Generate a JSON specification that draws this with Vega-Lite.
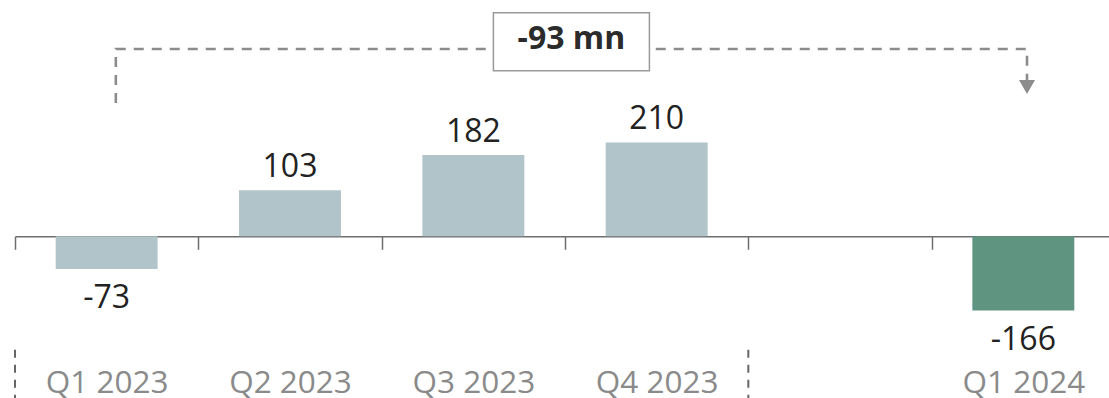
{
  "$schema": "https://vega.github.io/schema/vega-lite/v6.json",
  "width": 1100,
  "height": 398,
  "padding": {"left": 14, "top": 0, "right": 0, "bottom": 0},
  "config": {"view": {"stroke": null}, "font": "Open Sans"},
  "datasets": {
    "bars": [
      {"q": "Q1 2023", "v": -73, "g": "past"},
      {"q": "Q2 2023", "v": 103, "g": "past"},
      {"q": "Q3 2023", "v": 182, "g": "past"},
      {"q": "Q4 2023", "v": 210, "g": "past"},
      {"q": "Q1 2024", "v": -166, "g": "current"}
    ],
    "bracket": [
      {"pos": 0.55, "y": 298, "o": 1},
      {"pos": 0.55, "y": 419, "o": 2},
      {"pos": 5.52, "y": 419, "o": 3},
      {"pos": 5.52, "y": 336, "o": 4}
    ],
    "seps": [
      {"pos": 0, "y": -254, "y2": -362},
      {"pos": 4, "y": -254, "y2": -362}
    ],
    "arrow": [{"pos": 5.52, "y": 334}],
    "box": [{"pos": 3.035, "y": 435, "ty": 419, "label": "-93 mn"}]
  },
  "resolve": {"scale": {"x": "independent"}},
  "layer": [
    {
      "data": {"name": "bars"},
      "transform": [{"calculate": "toString(datum.v)", "as": "lbl"}],
      "encoding": {
        "x": {
          "field": "q", "type": "nominal", "sort": null,
          "scale": {"domain": ["Q1 2023", "Q2 2023", "Q3 2023", "Q4 2023", "gap", "Q1 2024"], "paddingInner": 0, "paddingOuter": 0},
          "axis": {
            "title": null, "orient": "bottom", "offset": -161.7, "tickBand": "extent",
            "tickSize": 13, "tickColor": "#6e6e6e", "tickWidth": 1.5,
            "domainColor": "#6e6e6e", "domainWidth": 1.5,
            "labelFont": "Open Sans", "labelFontSize": 31.5, "labelColor": "#8a8a8a",
            "labelPadding": 118.5, "labelAngle": 0,
            "labelExpr": "datum.value == 'gap' ? '' : datum.value"
          }
        },
        "y": {"field": "v", "type": "quantitative", "scale": {"domain": [-361.7, 528.6], "nice": false, "zero": false}, "axis": null}
      },
      "layer": [
        {
          "mark": {"type": "bar", "width": {"band": 0.556}},
          "encoding": {
            "color": {"field": "g", "type": "nominal", "scale": {"domain": ["past", "current"], "range": ["#b0c4c9", "#5f9580"]}, "legend": null}
          }
        },
        {
          "transform": [{"filter": "datum.v >= 0"}],
          "mark": {"type": "text", "baseline": "alphabetic", "dy": -13, "fontSize": 32, "color": "#222222", "font": "Open Sans"},
          "encoding": {"text": {"field": "lbl", "type": "nominal"}}
        },
        {
          "transform": [{"filter": "datum.v < 0"}],
          "mark": {"type": "text", "baseline": "alphabetic", "dy": 39, "fontSize": 32, "color": "#222222", "font": "Open Sans"},
          "encoding": {"text": {"field": "lbl", "type": "nominal"}}
        }
      ]
    },
    {
      "layer": [
        {
          "data": {"name": "bracket"},
          "mark": {"type": "line", "strokeDash": [10, 8], "strokeWidth": 2.6, "color": "#8c8c8c"},
          "encoding": {
            "x": {"field": "pos", "type": "quantitative", "scale": {"domain": [0, 6], "nice": false, "zero": false}, "axis": null},
            "y": {"field": "y", "type": "quantitative", "scale": {"domain": [-361.7, 528.6], "nice": false, "zero": false}, "axis": null},
            "order": {"field": "o", "type": "quantitative"}
          }
        },
        {
          "data": {"name": "seps"},
          "mark": {"type": "rule", "strokeDash": [8, 7], "strokeWidth": 2, "color": "#666666"},
          "encoding": {
            "x": {"field": "pos", "type": "quantitative", "scale": {"domain": [0, 6], "nice": false, "zero": false}, "axis": null},
            "y": {"field": "y", "type": "quantitative", "scale": {"domain": [-361.7, 528.6], "nice": false, "zero": false}, "axis": null},
            "y2": {"field": "y2"}
          }
        },
        {
          "data": {"name": "arrow"},
          "mark": {"type": "point", "shape": "triangle-down", "filled": true, "size": 256, "color": "#8c8c8c", "opacity": 1},
          "encoding": {
            "x": {"field": "pos", "type": "quantitative", "scale": {"domain": [0, 6], "nice": false, "zero": false}, "axis": null},
            "y": {"field": "y", "type": "quantitative", "scale": {"domain": [-361.7, 528.6], "nice": false, "zero": false}, "axis": null}
          }
        },
        {
          "data": {"name": "box"},
          "mark": {"type": "point", "shape": "M-1,-0.372L1,-0.372L1,0.372L-1,0.372Z", "size": 24336, "filled": false, "fill": "#ffffff", "fillOpacity": 1, "stroke": "#9a9a9a", "strokeWidth": 1.5, "opacity": 1},
          "encoding": {
            "x": {"field": "pos", "type": "quantitative", "scale": {"domain": [0, 6], "nice": false, "zero": false}, "axis": null},
            "y": {"field": "y", "type": "quantitative", "scale": {"domain": [-361.7, 528.6], "nice": false, "zero": false}, "axis": null}
          }
        },
        {
          "data": {"name": "box"},
          "mark": {"type": "text", "baseline": "alphabetic", "fontSize": 32, "fontWeight": "bold", "color": "#2b2b2b", "font": "Open Sans"},
          "encoding": {
            "x": {"field": "pos", "type": "quantitative", "scale": {"domain": [0, 6], "nice": false, "zero": false}, "axis": null},
            "y": {"field": "ty", "type": "quantitative", "scale": {"domain": [-361.7, 528.6], "nice": false, "zero": false}, "axis": null},
            "text": {"field": "label"}
          }
        }
      ]
    }
  ]
}
